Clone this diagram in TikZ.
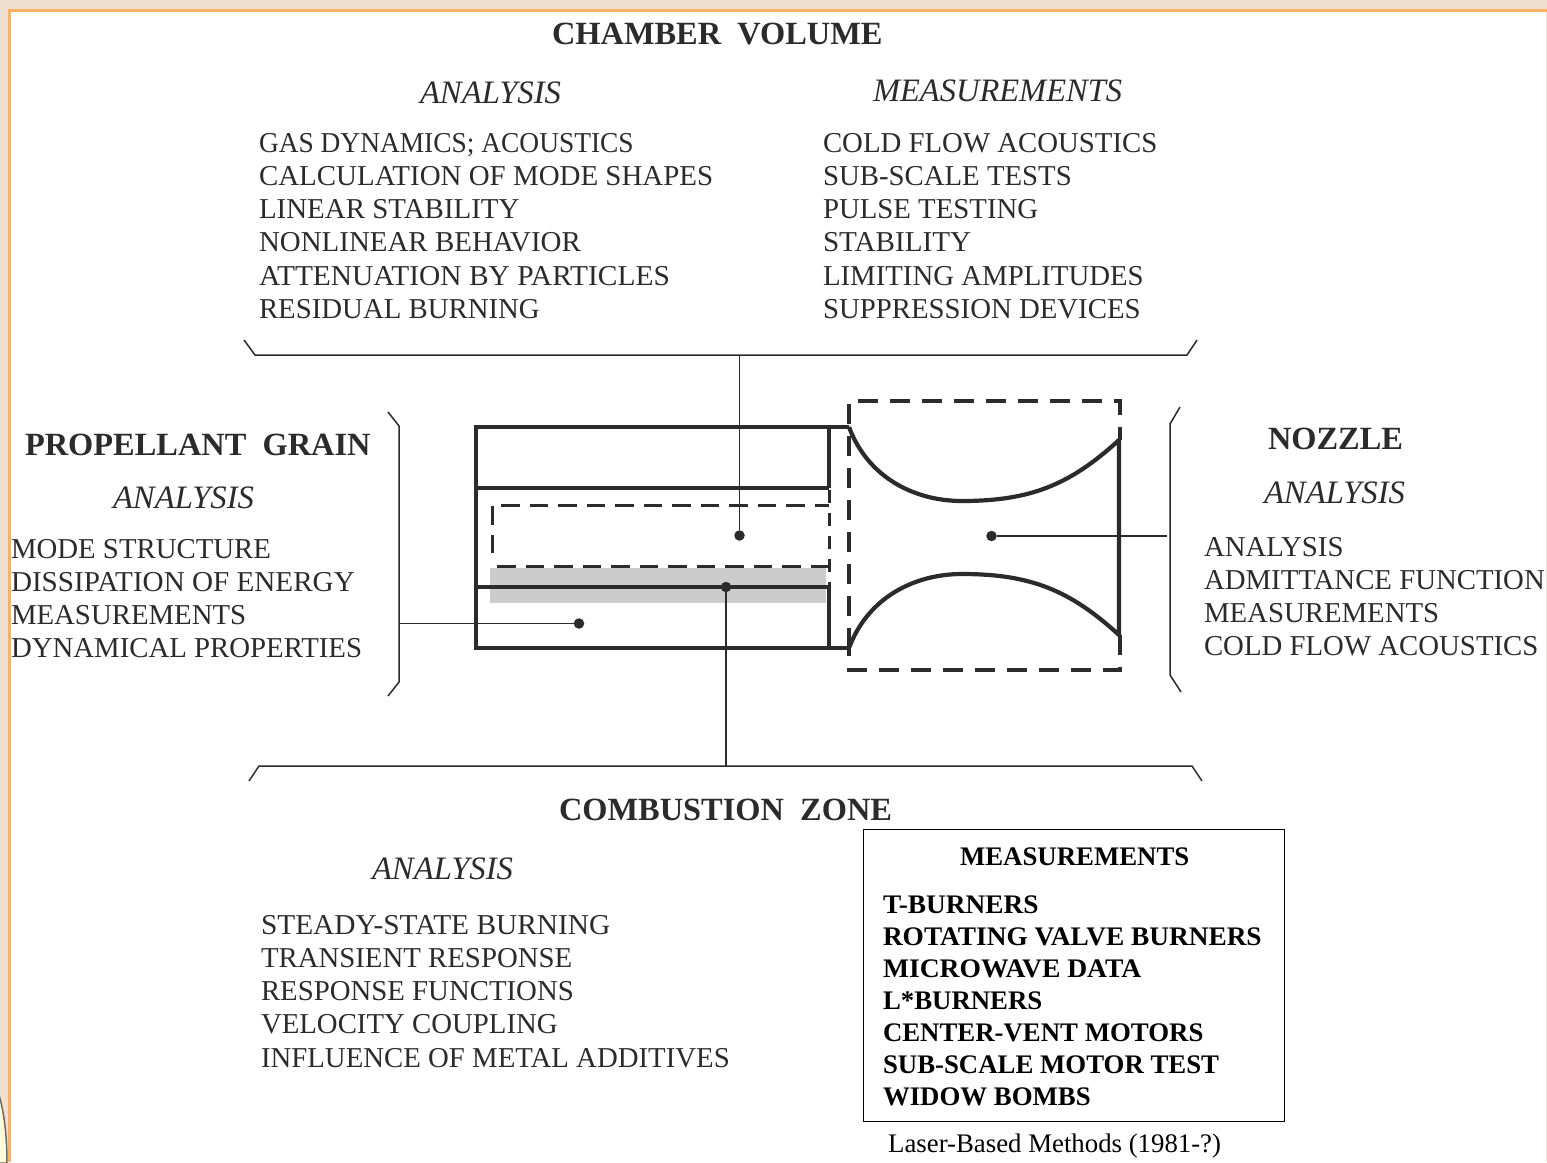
\documentclass[tikz,border=0pt]{standalone}
\usepackage{fontspec}
\setmainfont{Liberation Serif}
\newcommand{\bodyfs}{\fontsize{28.8}{33}\selectfont}
\newcommand{\headfs}{\fontsize{32.4}{36}\selectfont\bfseries}
\newcommand{\itfs}{\fontsize{32.7}{36}\selectfont\itshape}
\newcommand{\boxfs}{\fontsize{26.8}{32}\selectfont\bfseries}
\newcommand{\sx}[2]{\scalebox{#1}[1]{#2}}
\definecolor{ink}{HTML}{2B2B2B}
\definecolor{pagebg}{HTML}{EFDFCF}
\definecolor{frameo}{HTML}{FFB060}
\tikzset{
  x=1pt,y=-1pt,
  txt/.style={anchor=base west,inner sep=0pt,outer sep=0pt,text=ink,font=\bodyfs},
  head/.style={anchor=base west,inner sep=0pt,outer sep=0pt,text=ink,font=\headfs},
  ital/.style={anchor=base west,inner sep=0pt,outer sep=0pt,text=ink,font=\itfs},
  boxt/.style={anchor=base west,inner sep=0pt,outer sep=0pt,text=black,font=\boxfs},
  thick line/.style={draw=ink,line width=3.8pt},
  dash line/.style={draw=ink,line width=3.2pt,dash pattern=on 20pt off 12pt},
  dash inner/.style={draw=ink,line width=3pt,dash pattern=on 18.5pt off 10pt},
  thin line/.style={draw=ink,line width=1.5pt},
  dotn/.style={circle,fill=ink,inner sep=0pt,minimum size=10.5pt},
}
\begin{document}
\begin{tikzpicture}
\useasboundingbox (0,0) rectangle (1547,1162);
% page frame
\fill[fill=white] (0,0) rectangle (1547,1162);
\fill[pagebg] (0,0) rectangle (1547,9);
\fill[pagebg] (0,0) rectangle (8,1162);
\fill[pagebg] (1546,9) rectangle (1547,1162);
\fill[frameo] (8,9) rectangle (1547,12);
\fill[frameo] (8,9) rectangle (11,1162);
% emblem sliver
\fill[fill=yellow!15,draw=ink!70,line width=1.5pt] (-1,1095) .. controls (4,1112) and (7,1135) .. (7,1163) -- (-1,1163) -- cycle;

% grey band
\fill[black!20] (490,568) rectangle (826,603);

% grain
\coordinate (gTL) at (476,427);
\coordinate (gTR) at (849,427);
\coordinate (gBL) at (476,648);
\coordinate (gBR) at (849,648);
\draw[thick line,line join=miter] (gTR) -- (gTL) -- (gBL) -- (gBR);
\draw[thick line] (476,488) -- (829,488);
\draw[thick line] (476,587) -- (829,587);
\draw[thick line] (829,427) -- (829,488);
\draw[thick line] (829,587) -- (829,648);

% chamber dashed
\draw[dash inner] (829,566) -- (492,566);
\draw[dash inner] (492,553) -- (492,505) -- (829,505);
\draw[dash inner,dash pattern=on 13pt off 10pt] (829,490) -- (829,587);

% nozzle dashed
\draw[dash line] (849,648) -- (849,401) -- (1120,401) -- (1120,440);
\draw[dash line] (1120,635) -- (1120,670) -- (849,670) -- (849,648);

% nozzle walls
\coordinate (nU) at (1119,440);
\coordinate (nL) at (1119,635);
\draw[draw=ink,line width=4.2pt,line join=miter]
  (gTR) .. controls (868,478) and (915,501) .. (962,501)
  .. controls (1030,501) and (1070,485) .. (nU) -- (nL)
  .. controls (1070,590) and (1030,574) .. (962,574)
  .. controls (915,574) and (868,597) .. (gBR);

% braces
\coordinate (bt1) at (244,340); \coordinate (bt2) at (255,355);
\coordinate (bt3) at (1187,355); \coordinate (bt4) at (1197,340);
\coordinate (bb1) at (249,781); \coordinate (bb2) at (259,766);
\coordinate (bb3) at (1192,766); \coordinate (bb4) at (1202,781);
\coordinate (bl1) at (388,412); \coordinate (bl2) at (399,426);
\coordinate (bl3) at (399,682); \coordinate (bl4) at (388,696);
\coordinate (br1) at (1180,407); \coordinate (br2) at (1170,424);
\coordinate (br3) at (1170,675); \coordinate (br4) at (1181,692);
\draw[thin line] (bt1) -- (bt2) -- (bt3) -- (bt4);
\draw[thin line] (bb1) -- (bb2) -- (bb3) -- (bb4);
\draw[thin line] (bl1) -- (bl2) -- (bl3) -- (bl4);
\draw[thin line] (br1) -- (br2) -- (br3) -- (br4);

% dots and leaders
\node[dotn] (dChamber) at (739.5,535.5) {};
\node[dotn] (dNozzle) at (991.5,536) {};
\node[dotn] (dComb) at (726,587) {};
\node[dotn] (dGrain) at (579,623.5) {};
\coordinate (cTop) at (739.5,355);
\coordinate (cBot) at (726,766);
\coordinate (cRight) at (1167,536);
\coordinate (cLeft) at (399,623.5);
\draw[thin line] (cTop) -- (dChamber);
\draw[thin line] (cBot) -- (dComb);
\draw[thin line] (cRight) -- (dNozzle);
\draw[thin line] (cLeft) -- (dGrain);

% chamber volume
\node[head] (t1) at (552,44) {CHAMBER\ \ VOLUME};
\node[ital] (t2) at (420,103) {ANALYSIS};
\node[ital] (t3) at (873,101) {\sx{0.994}{MEASUREMENTS}};
\node[txt] (a1) at (259,152) {\sx{0.952}{GAS DYNAMICS; ACOUSTICS}};
\node[txt] (a2) at (259,185) {\sx{1.005}{CALCULATION OF MODE SHAPES}};
\node[txt] (a3) at (259,218) {\sx{1.005}{LINEAR STABILITY}};
\node[txt] (a4) at (259,251) {\sx{1.005}{NONLINEAR BEHAVIOR}};
\node[txt] (a5) at (259,285) {\sx{1.022}{ATTENUATION BY PARTICLES}};
\node[txt] (a6) at (259,318) {RESIDUAL BURNING};
\node[txt] (m1) at (823,152) {COLD FLOW ACOUSTICS};
\node[txt] (m2) at (823,185) {SUB-SCALE TESTS};
\node[txt] (m3) at (823,218) {PULSE TESTING};
\node[txt] (m4) at (823,251) {\sx{1.012}{STABILITY}};
\node[txt] (m5) at (823,285) {LIMITING AMPLITUDES};
\node[txt] (m6) at (823,318) {SUPPRESSION DEVICES};

% propellant grain
\node[head] (p0) at (25,455) {PROPELLANT\ \ GRAIN};
\node[ital] (p1) at (113,508.5) {ANALYSIS};
\node[txt] (p2) at (11,558) {MODE STRUCTURE};
\node[txt] (p3) at (11,591) {\sx{1.012}{DISSIPATION OF ENERGY}};
\node[txt] (p4) at (11,624) {MEASUREMENTS};
\node[txt] (p5) at (11,657) {DYNAMICAL PROPERTIES};

% nozzle
\node[head] (n0) at (1268,449) {NOZZLE};
\node[ital] (n1) at (1264,503.5) {ANALYSIS};
\node[txt] (n2) at (1204,556) {ANALYSIS};
\node[txt] (n3) at (1204,589) {ADMITTANCE FUNCTION};
\node[txt] (n4) at (1204,622) {MEASUREMENTS};
\node[txt] (n5) at (1204,655) {COLD FLOW ACOUSTICS};

% combustion zone
\node[head] (c0) at (559,820) {COMBUSTION\ \ ZONE};
\node[ital] (c1) at (372,879) {ANALYSIS};
\node[txt] (c2) at (261,934) {\sx{1.02}{STEADY-STATE BURNING}};
\node[txt] (c3) at (261,967) {TRANSIENT RESPONSE};
\node[txt] (c4) at (261,1000) {RESPONSE FUNCTIONS};
\node[txt] (c5) at (261,1033) {VELOCITY COUPLING};
\node[txt] (c6) at (261,1067) {INFLUENCE OF METAL ADDITIVES};

% measurements box
\draw[draw=black,line width=0.9pt] (863.5,829) rectangle (1284.5,1121);
\node[boxt] (b0) at (960,865) {MEASUREMENTS};
\node[boxt] (b1) at (883,913.5) {\sx{1.02}{T-BURNERS}};
\node[boxt] (b2) at (883,945.5) {\sx{1.02}{ROTATING VALVE BURNERS}};
\node[boxt] (b3) at (883,977.5) {\sx{1.03}{MICROWAVE DATA}};
\node[boxt] (b4) at (883,1009.5) {L*BURNERS};
\node[boxt] (b5) at (883,1041.5) {CENTER-VENT MOTORS};
\node[boxt] (b6) at (883,1073.5) {SUB-SCALE MOTOR TEST};
\node[boxt] (b7) at (883,1105.5) {WIDOW BOMBS};
\node[anchor=base west,inner sep=0pt,text=black,font=\fontsize{26.8}{30}\selectfont] (b8) at (888,1152) {Laser-Based Methods (1981-?)};
\end{tikzpicture}
\end{document}
